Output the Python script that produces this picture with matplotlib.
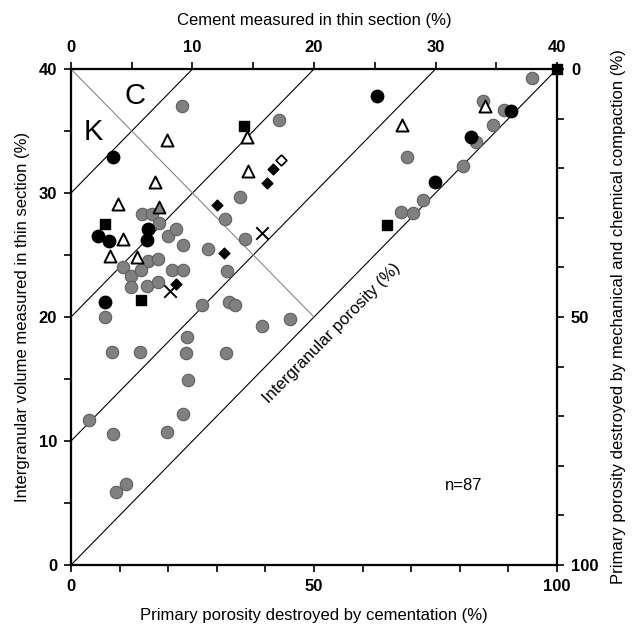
import matplotlib
matplotlib.use("Agg")
import matplotlib.pyplot as plt

plt.rcParams["font.family"] = ["Liberation Sans", "DejaVu Sans"]

# x = primary porosity destroyed by cementation (%), y = IGV (%)
gray_x = [22.9, 42.9, 34.8, 31.6, 35.7, 28.2, 32.0, 26.9, 32.5, 33.8,
          14.7, 16.6, 18.2, 20.0, 21.7, 23.0, 10.6, 12.3, 15.8, 17.8,
          14.4, 12.3, 15.7, 17.8, 20.8, 23.0, 6.9, 39.4, 45.1, 23.8,
          8.4, 14.3, 23.7, 31.8, 24.0, 23.0, 3.8, 8.6, 19.7, 9.3,
          11.3, 94.8, 84.7, 89.0, 86.9, 83.3, 80.6, 69.1, 72.5, 68.0, 70.3]
gray_y = [37.0, 35.9, 29.7, 27.9, 26.3, 25.5, 23.7, 21.0, 21.2, 21.0,
          28.3, 28.3, 27.6, 26.5, 27.1, 25.8, 24.0, 23.3, 24.5, 24.7,
          23.8, 22.4, 22.5, 22.8, 23.8, 23.8, 20.0, 19.3, 19.8, 18.4,
          17.2, 17.2, 17.1, 17.1, 14.9, 12.2, 11.7, 10.6, 10.7, 5.9,
          6.5, 39.3, 37.4, 36.7, 35.5, 34.1, 32.2, 32.9, 29.4, 28.5, 28.4]
graytri_x = [18.2]
graytri_y = [28.9]
black_x = [8.7, 5.6, 7.9, 15.9, 15.7, 7.0, 62.9, 74.8, 82.4, 90.5]
black_y = [32.9, 26.5, 26.1, 27.1, 26.2, 21.2, 37.8, 30.9, 34.5, 36.6]
square_x = [7.0, 14.4, 35.5, 65.0, 100.0]
square_y = [27.5, 21.4, 35.4, 27.4, 40.0]
tri_x = [9.7, 10.6, 8.0, 13.5, 17.3, 19.7, 36.3, 36.5, 68.2, 85.2]
tri_y = [29.1, 26.3, 24.9, 24.8, 30.9, 34.3, 34.5, 31.8, 35.5, 37.0]
diam_x = [21.6, 30.0, 41.5, 40.4, 31.5]
diam_y = [22.7, 29.0, 31.9, 30.8, 25.2]
odiam_x = [43.2]
odiam_y = [32.7]
cross_x = [20.4, 39.3]
cross_y = [22.1, 26.8]

porosity_lines = [0, 10, 20, 30]   # intergranular porosity (%)
kc_x = [0, 50]
kc_y = [40, 20]

fig = plt.figure(figsize=(6.39, 6.28), dpi=100)
ax = fig.add_axes([0.1111, 0.1003, 0.7606, 0.7898])
ax.set_xlim(0, 100)
ax.set_ylim(0, 40)

for p in porosity_lines:
    x_end = (40 - p) / 0.4
    ax.plot([0, x_end], [p, 40], color="black", lw=0.8, zorder=1)
ax.plot(kc_x, kc_y, color="#888888", lw=0.8, zorder=1)

ax.scatter(gray_x, gray_y, s=80, c="#808080", edgecolors="#5f5f5f", lw=0.8, zorder=3)
ax.scatter(graytri_x, graytri_y, s=75, marker="^", c="#808080", edgecolors="black", lw=1.3, zorder=4)
ax.scatter(black_x, black_y, s=80, c="black", zorder=4)
ax.scatter(square_x, square_y, s=55, marker="s", c="black", zorder=4, clip_on=False)
ax.scatter(tri_x, tri_y, s=75, marker="^", facecolors="white", edgecolors="black", lw=1.4, zorder=4)
ax.scatter(diam_x, diam_y, s=30, marker="D", c="black", zorder=4)
ax.scatter(odiam_x, odiam_y, s=30, marker="D", facecolors="white", edgecolors="black", lw=1.2, zorder=4)
ax.scatter(cross_x, cross_y, s=80, marker="x", c="black", lw=1.4, zorder=4)

ax.text(4.5, 34.9, "K", fontsize=21, ha="center", va="center")
ax.text(13.2, 37.8, "C", fontsize=21, ha="center", va="center")
ax.text(53.7, 18.7, "Intergranular porosity (%)", fontsize=12, rotation=45.6,
        rotation_mode="anchor", ha="center", va="center")
ax.text(80.7, 6.4, "n=87", fontsize=12, ha="center", va="center")

tick_kw = dict(direction="out", length=5, width=1.2, labelsize=12, pad=5)
ax.set_xticks(range(0, 101, 10))
ax.set_xticklabels(["0", "", "", "", "", "50", "", "", "", "", "100"], fontweight="bold")
ax.set_yticks(range(0, 41, 5))
ax.set_yticklabels(["0", "", "10", "", "20", "", "30", "", "40"], fontweight="bold")
ax.tick_params(**tick_kw)
ax.set_xlabel("Primary porosity destroyed by cementation (%)", fontsize=12, labelpad=10)
ax.set_ylabel("Intergranular volume measured in thin section (%)", fontsize=12, labelpad=6)

top = ax.twiny()
top.set_xlim(0, 40)
top.set_xticks(range(0, 41, 5))
top.set_xticklabels(["0", "", "10", "", "20", "", "30", "", "40"], fontweight="bold")
top.tick_params(**tick_kw)
top.set_xlabel("Cement measured in thin section (%)", fontsize=12, labelpad=11)

right = ax.twinx()
right.set_ylim(100, 0)
right.set_yticks(range(0, 101, 10))
right.set_yticklabels(["0", "", "", "", "", "50", "", "", "", "", "100"], fontweight="bold")
right.tick_params(**tick_kw)
right.set_ylabel("Primary porosity destroyed by mechanical and chemical compaction (%)",
                 fontsize=12, labelpad=9)

for a in (ax, top, right):
    for s in a.spines.values():
        s.set_linewidth(1.5)

fig.savefig("out.png", dpi=100)
